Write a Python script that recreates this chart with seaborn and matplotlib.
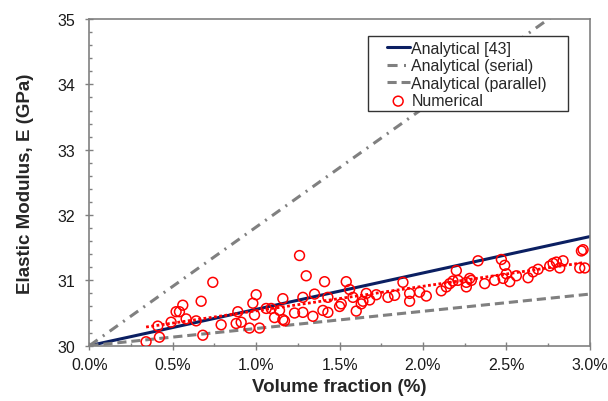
import numpy as np
import pandas as pd
import matplotlib
matplotlib.use('Agg')
from matplotlib import pyplot as plt
from matplotlib.patches import Rectangle
from matplotlib.ticker import MultipleLocator, FuncFormatter
import seaborn as sns

# numerical results (volume fraction %, elastic modulus GPa)
vf_num = [0.34, 0.41, 0.42, 0.49, 0.52, 0.54, 0.56, 0.58, 0.64, 0.67, 0.68, 0.74,
          0.79, 0.89, 0.88, 0.91, 0.96, 0.98, 1.00, 0.99, 1.02, 1.06, 1.09, 1.11,
          1.14, 1.16, 1.16, 1.17, 1.23, 1.26, 1.28, 1.28, 1.30, 1.34, 1.35, 1.40,
          1.41, 1.43, 1.43, 1.50, 1.51, 1.54, 1.56, 1.58, 1.60, 1.63, 1.64, 1.66,
          1.68, 1.72, 1.79, 1.83, 1.88, 1.92, 1.92, 1.98, 2.02, 2.11, 2.14, 2.16,
          2.18, 2.20, 2.21, 2.26, 2.26, 2.28, 2.29, 2.33, 2.37, 2.43, 2.47, 2.48,
          2.49, 2.50, 2.52, 2.56, 2.63, 2.66, 2.69, 2.76, 2.78, 2.80, 2.82, 2.84,
          2.94, 2.95, 2.96, 2.97]
E_num = [30.06, 30.30, 30.13, 30.36, 30.52, 30.52, 30.62, 30.41, 30.38, 30.68, 30.16, 30.97,
         30.32, 30.52, 30.34, 30.36, 30.27, 30.65, 30.78, 30.47, 30.27, 30.57, 30.57, 30.43,
         30.54, 30.72, 30.40, 30.38, 30.50, 31.38, 30.74, 30.51, 31.07, 30.45, 30.79, 30.54,
         30.98, 30.74, 30.51, 30.60, 30.64, 30.98, 30.86, 30.74, 30.53, 30.64, 30.68, 30.80,
         30.70, 30.78, 30.74, 30.77, 30.97, 30.80, 30.68, 30.82, 30.76, 30.84, 30.90, 30.95,
         30.99, 31.15, 31.00, 30.97, 30.90, 31.03, 31.00, 31.30, 30.95, 31.00, 31.32, 31.03,
         31.23, 31.10, 30.98, 31.07, 31.04, 31.13, 31.17, 31.22, 31.26, 31.28, 31.19, 31.30,
         31.19, 31.45, 31.47, 31.19]

# analytical lines (end points)
vf_line = [0.0, 3.0]
E_analytical = [30.0, 31.67]
E_serial = [30.0, 35.45]
E_parallel = [30.0, 30.79]

x_ticks = [0.0, 0.5, 1.0, 1.5, 2.0, 2.5, 3.0]
y_ticks = [30, 31, 32, 33, 34, 35]

df = pd.DataFrame({'vf': vf_num, 'E': E_num})

sns.set_style('ticks')
plt.rcParams['font.family'] = ['Liberation Sans', 'DejaVu Sans']

fig = plt.figure(figsize=(6.08, 4.02), dpi=100)
ax = fig.add_axes([0.147, 0.1376, 0.823, 0.8124])

gray = '#808080'
sns.lineplot(x=vf_line, y=E_analytical, ax=ax, color='#0b1f62', lw=2.2,
             label='Analytical [43]')
sns.lineplot(x=vf_line, y=E_serial, ax=ax, color=gray, lw=2.2,
             label='Analytical (serial)')
ax.lines[-1].set_dashes([3.3, 2.1, 0.65, 2.1])
sns.lineplot(x=vf_line, y=E_parallel, ax=ax, color=gray, lw=2.2,
             label='Analytical (parallel)')
ax.lines[-1].set_dashes([3.0, 1.6])
sns.scatterplot(data=df, x='vf', y='E', ax=ax, marker='o', s=50,
                facecolor='none', edgecolor='#ff0000', linewidth=1.1,
                label='Numerical', zorder=4)
sns.regplot(data=df, x='vf', y='E', ax=ax, scatter=False, ci=None,
            line_kws=dict(color='#ff0000', lw=2, ls=(0, (1, 0.9))))

ax.set_xlim(0, 3)
ax.set_ylim(30, 35)
ax.set_xticks(x_ticks)
ax.set_yticks(y_ticks)
ax.xaxis.set_major_formatter(FuncFormatter(lambda v, p: f'{v:.1f}%'))
ax.xaxis.set_minor_locator(MultipleLocator(0.25))
ax.yaxis.set_minor_locator(MultipleLocator(0.2))
ax.tick_params(which='major', direction='inout', length=6, width=1, color=gray,
               labelsize=11.5, labelcolor='#1a1a1a')
ax.tick_params(axis='x', which='major', pad=5.5)
ax.tick_params(axis='y', which='major', pad=7)
ax.tick_params(which='minor', direction='in', length=2.5, width=1, color=gray)
for sp in ax.spines.values():
    sp.set_color(gray)
    sp.set_linewidth(1.2)

ax.set_xlabel('Volume fraction (%)', fontsize=13.5, fontweight='bold', labelpad=4)
ax.set_ylabel('Elastic Modulus, E (GPa)', fontsize=13.5, fontweight='bold', labelpad=17)

# legend box drawn separately (wide side padding as in the original)
ax.add_patch(Rectangle((0.5564, 0.718), 0.3996, 0.230, transform=ax.transAxes,
                       facecolor='white', edgecolor='#333333', lw=1.0, zorder=4.5))
leg = ax.legend(loc='upper left', bbox_to_anchor=(0.594, 0.934), borderaxespad=0,
                fontsize=11.5, frameon=False, handlelength=1.45,
                handletextpad=0.1, labelspacing=0.16, borderpad=0)
leg.set_zorder(5)

fig.savefig('out.png', dpi=100)
